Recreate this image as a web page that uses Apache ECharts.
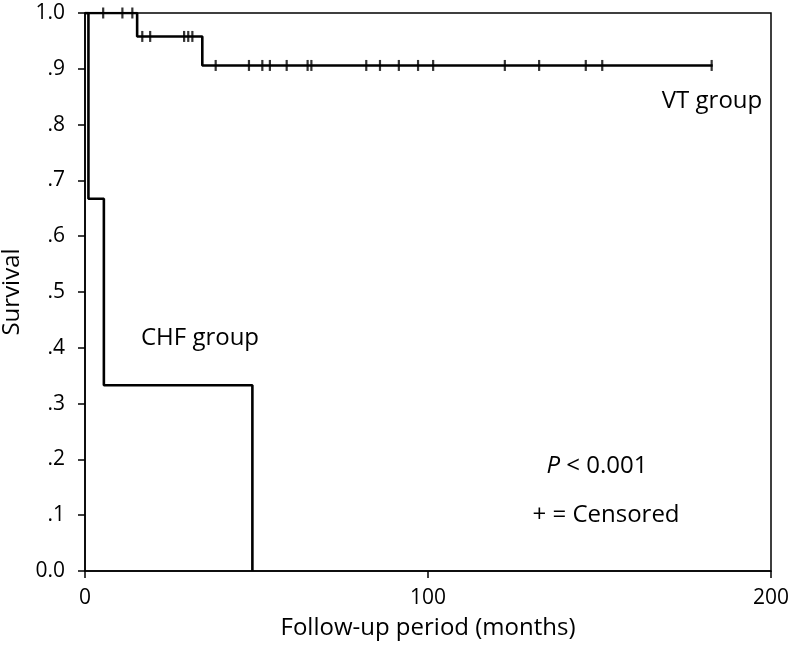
<!DOCTYPE html>
<html>
<head>
<meta charset="utf-8">
<script src="https://cdn.jsdelivr.net/npm/echarts@6/dist/echarts.min.js"></script>
<style>
html,body{margin:0;padding:0;background:#fff;}
#chart{width:794px;height:651px;}
</style>
</head>
<body>
<div id="chart"></div>
<script>
// Kaplan-Meier step points (time in months, survival)
const vtTimes = [0, 15.2, 34.2, 183.0];
const vtSurvival = [1.0, 0.958, 0.906, 0.906];
const chfTimes = [0, 1.0, 5.5, 48.8];
const chfSurvival = [1.0, 0.667, 0.333, 0.0];

// censored observations (VT group)
const vtCensorTimes = [5.3, 10.9, 13.8, 16.7, 19.0, 28.9, 30.1, 31.3, 38.1, 47.8, 51.7, 53.9, 58.8, 64.9, 66.0, 82.0, 86.0, 91.5, 97.1, 101.5, 122.4, 132.4, 146.0, 150.8, 182.7];
const vtCensorSurvival = [1.0, 1.0, 1.0, 0.958, 0.958, 0.958, 0.958, 0.958, 0.906, 0.906, 0.906, 0.906, 0.906, 0.906, 0.906, 0.906, 0.906, 0.906, 0.906, 0.906, 0.906, 0.906, 0.906, 0.906, 0.906];

const yTickLabels = ['0.0', '.1', '.2', '.3', '.4', '.5', '.6', '.7', '.8', '.9', '1.0'];
const xLabel = 'Follow-up period (months)';
const yLabel = 'Survival';
const groupLabels = ['VT group', 'CHF group'];
const pText = '< 0.001';
const censorText = '+ = Censored';

const FONT = '"Open Sans", "Noto Sans", sans-serif';

const chart = echarts.init(document.getElementById('chart'), null, {renderer: 'canvas'});

const zipPairs = (a, b) => a.map((v, i) => [v, b[i]]);

const option = {
  backgroundColor: '#fff',
  animation: false,
  grid: {
    left: 85, right: 23, top: 13, bottom: 80,
    outerBoundsMode: 'none', containLabel: false,
    show: true, borderColor: '#000', borderWidth: 1.5
  },
  xAxis: {
    type: 'value', min: 0, max: 200, interval: 100,
    splitLine: {show: false},
    axisLine: {show: true, onZero: false, lineStyle: {color: '#000', width: 1.5}},
    axisTick: {show: true, length: 7, lineStyle: {color: '#000', width: 1.5}},
    axisLabel: {color: '#000', fontSize: 21, fontFamily: FONT, margin: 17},
    name: xLabel, nameLocation: 'middle', nameGap: 45,
    nameTextStyle: {color: '#000', fontSize: 24, fontFamily: FONT}
  },
  yAxis: {
    type: 'value', min: 0, max: 1, interval: 0.1,
    splitLine: {show: false},
    axisLine: {show: true, onZero: false, lineStyle: {color: '#000', width: 1.5}},
    axisTick: {show: true, length: 7, lineStyle: {color: '#000', width: 1.5}},
    axisLabel: {
      color: '#000', fontSize: 21, fontFamily: FONT, margin: 20,
      formatter: function (v) {
        return yTickLabels[Math.round(v * 10)];
      }
    },
    name: yLabel, nameLocation: 'middle', nameGap: 60,
    nameTextStyle: {color: '#000', fontSize: 24, fontFamily: FONT}
  },
  series: [
    {
      name: 'VT', type: 'line', step: 'end', showSymbol: false,
      data: zipPairs(vtTimes, vtSurvival),
      lineStyle: {color: '#000', width: 2.6}, z: 3
    },
    {
      name: 'CHF', type: 'line', step: 'end', showSymbol: false,
      data: zipPairs(chfTimes, chfSurvival),
      lineStyle: {color: '#000', width: 2.6}, z: 3
    },
    {
      name: 'Censored', type: 'scatter',
      data: zipPairs(vtCensorTimes, vtCensorSurvival),
      symbol: 'rect', symbolSize: [2.2, 11],
      itemStyle: {color: '#000'}, z: 4
    }
  ],
  graphic: [
    {type: 'text', x: 712, y: 101, style: {text: groupLabels[0], font: '24px ' + FONT, fill: '#000', align: 'center', verticalAlign: 'middle'}},
    {type: 'text', x: 200, y: 338, style: {text: groupLabels[1], font: '24px ' + FONT, fill: '#000', align: 'center', verticalAlign: 'middle'}},
    {type: 'text', x: 597, y: 466, style: {
      text: '{i|P} ' + pText, fill: '#000', font: '24px ' + FONT, align: 'center', verticalAlign: 'middle',
      rich: {i: {fontStyle: 'italic', fontSize: 24, fontFamily: FONT, fill: '#000'}}
    }},
    {type: 'text', x: 606, y: 515, style: {text: censorText, font: '24px ' + FONT, fill: '#000', align: 'center', verticalAlign: 'middle'}}
  ]
};

chart.setOption(option);
</script>
</body>
</html>
